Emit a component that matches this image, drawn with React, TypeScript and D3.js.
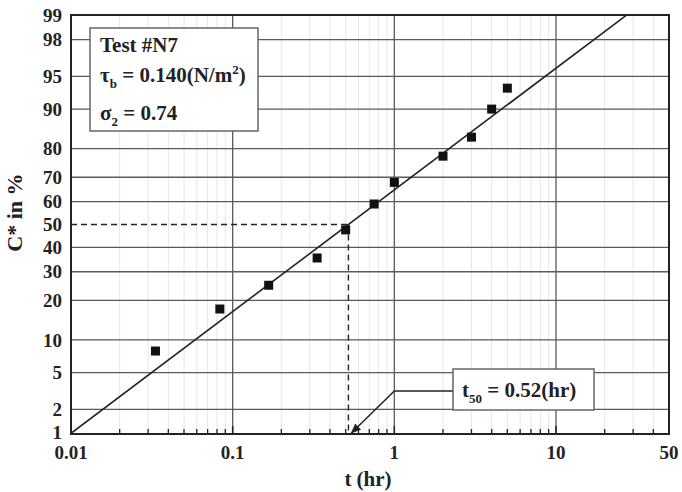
import * as d3 from 'd3';

// sample times (hr) and measured C* (%)
const times = [0.0333, 0.0833, 0.167, 0.333, 0.5, 0.75, 1, 2, 3, 4, 5];
const cStar = [8, 17.4, 25, 35.5, 47.6, 59, 68, 77.6, 83.4, 90, 93.5];

// log-normal fit
const t50 = 0.52;
const sigma2 = 0.74;
const fitTimes = [0.01, 27.3];

const yTicks = [1, 2, 5, 10, 20, 30, 40, 50, 60, 70, 80, 90, 95, 98, 99];
const xTickLabels = [0.01, 0.1, 1, 10, 50];
const xMajor = [0.1, 1, 10];

// inverse standard normal CDF (Acklam)
function normInv(p: number): number {
  const a = [-39.69683028665376, 220.9460984245205, -275.9285104469687, 138.357751867269, -30.66479806614716, 2.506628277459239];
  const b = [-54.47609879822406, 161.5858368580409, -155.6989798598866, 66.80131188771972, -13.28068155288572];
  const c = [-0.007784894002430293, -0.3223964580411365, -2.400758277161838, -2.549732539343734, 4.374664141464968, 2.938163982698783];
  const d = [0.007784695709041462, 0.3224671290700398, 2.445134137142996, 3.754408181402410];
  const plow = 0.02425;
  if (p < plow) {
    const q = Math.sqrt(-2 * Math.log(p));
    return (((((c[0] * q + c[1]) * q + c[2]) * q + c[3]) * q + c[4]) * q + c[5]) /
      ((((d[0] * q + d[1]) * q + d[2]) * q + d[3]) * q + 1);
  }
  if (p <= 1 - plow) {
    const q = p - 0.5;
    const r = q * q;
    return (((((a[0] * r + a[1]) * r + a[2]) * r + a[3]) * r + a[4]) * r + a[5]) * q /
      (((((b[0] * r + b[1]) * r + b[2]) * r + b[3]) * r + b[4]) * r + 1);
  }
  const q = Math.sqrt(-2 * Math.log(1 - p));
  return -(((((c[0] * q + c[1]) * q + c[2]) * q + c[3]) * q + c[4]) * q + c[5]) /
    ((((d[0] * q + d[1]) * q + d[2]) * q + d[3]) * q + 1);
}

export default function App() {
  const left = 71, right = 669, top = 15, bottom = 434;
  const x = d3.scaleLog().domain([0.01, 50]).range([left, right]);
  const yz = d3.scaleLinear().domain([normInv(0.01), normInv(0.99)]).range([bottom, top]);
  const y = (p: number) => yz(normInv(p / 100));

  // minor x ticks: 2..9 of each decade
  const minor: number[] = [];
  [0.01, 0.1, 1, 10].forEach(dec => {
    for (let k = 2; k <= 9; k++) {
      const v = dec * k;
      if (v < 50) minor.push(v);
    }
  });

  const fitLine = d3.line<number>()
    .x(t => x(t))
    .y(t => yz(Math.log10(t / t50) / sigma2));

  const font = '"Liberation Serif", "Times New Roman", serif';
  const sq = 9;

  return (
    <svg width={682} height={492} style={{ position: 'absolute', left: 0, top: 0, background: '#fff' }}
      fontFamily={font} fontWeight="bold">
      <defs>
        <clipPath id="plot">
          <rect x={left} y={top} width={right - left} height={bottom - top} />
        </clipPath>
        <marker id="arr" viewBox="0 0 10 10" refX="9" refY="5" markerWidth="7" markerHeight="7" orient="auto">
          <path d="M0,1 L10,5 L0,9 Z" fill="#222" />
        </marker>
      </defs>

      {/* minor vertical grid */}
      {minor.map(v => (
        <line key={'mg' + v} x1={x(v)} x2={x(v)} y1={top} y2={bottom} stroke="#e6e6e6" strokeWidth={1} />
      ))}
      {/* major vertical grid */}
      {xMajor.map(v => (
        <line key={'Mg' + v} x1={x(v)} x2={x(v)} y1={top} y2={bottom} stroke="#5a5a5a" strokeWidth={1.3} />
      ))}
      {/* horizontal grid */}
      {yTicks.map(v => (
        v === 50 ? null :
        <line key={'hg' + v} x1={left} x2={right} y1={y(v)} y2={y(v)} stroke="#5a5a5a" strokeWidth={1.3} />
      ))}

      {/* x minor ticks */}
      {minor.map(v => (
        <line key={'mt' + v} x1={x(v)} x2={x(v)} y1={bottom} y2={bottom - 5} stroke="#222" strokeWidth={1.3} />
      ))}
      {xMajor.map(v => (
        <line key={'Mt' + v} x1={x(v)} x2={x(v)} y1={bottom} y2={bottom - 8} stroke="#222" strokeWidth={1.5} />
      ))}

      {/* t50 dashed guides */}
      <line x1={left} x2={x(t50)} y1={y(50)} y2={y(50)} stroke="#222" strokeWidth={1.4} strokeDasharray="6,4" />
      <line x1={x(t50)} x2={x(t50)} y1={y(50)} y2={bottom} stroke="#222" strokeWidth={1.4} strokeDasharray="6,4" />

      {/* fit line */}
      <path d={fitLine(fitTimes) || ''} fill="none" stroke="#222" strokeWidth={1.6} clipPath="url(#plot)" />

      {/* data */}
      {times.map((t, i) => (
        <rect key={'p' + i} x={x(t) - sq / 2} y={y(cStar[i]) - sq / 2} width={sq} height={sq} fill="#111" />
      ))}

      {/* frame */}
      <rect x={left} y={top} width={right - left} height={bottom - top} fill="none" stroke="#222" strokeWidth={2} />

      {/* y tick labels */}
      {yTicks.map(v => (
        <text key={'yl' + v} x={62} y={y(v)} dy={v === 1 ? '0.28em' : '0.35em'} textAnchor="end" fontSize={19} fill="#222">{v}</text>
      ))}
      {/* x tick labels */}
      {xTickLabels.map(v => (
        <text key={'xl' + v} x={x(v)} y={459} textAnchor="middle" fontSize={19} fill="#222">{v}</text>
      ))}

      {/* axis titles */}
      <text x={368} y={486} textAnchor="middle" fontSize={21} fill="#222">t (hr)</text>
      <text transform={`translate(22, ${y(50) - 12}) rotate(-90)`} textAnchor="middle" fontSize={22} fill="#222">C* in %</text>

      {/* info box */}
      <rect x={90} y={28} width={168} height={103} fill="#fff" stroke="#666" strokeWidth={1.5} />
      <text x={100} y={52} fontSize={21} fill="#222">Test #N7</text>
      <text x={100} y={82} fontSize={21} fill="#222">
        τ<tspan fontSize={13} dy={6}>b</tspan><tspan dy={-6}> = 0.140(N/m</tspan><tspan fontSize={13} dy={-8}>2</tspan><tspan dy={8}>)</tspan>
      </text>
      <text x={100} y={120} fontSize={21} fill="#222">
        σ<tspan fontSize={13} dy={6}>2</tspan><tspan dy={-6}> = 0.74</tspan>
      </text>

      {/* t50 annotation */}
      <polyline points={`453,391 ${x(1)},391 ${x(t50) + 3},${bottom - 1}`} fill="none" stroke="#222" strokeWidth={1.5} markerEnd="url(#arr)" />
      <rect x={453} y={369} width={141} height={41} fill="#fff" stroke="#666" strokeWidth={1.5} />
      <text x={462} y={397} fontSize={21} fill="#222">
        t<tspan fontSize={13} dy={6}>50</tspan><tspan dy={-6}> = 0.52(hr)</tspan>
      </text>
    </svg>
  );
}
